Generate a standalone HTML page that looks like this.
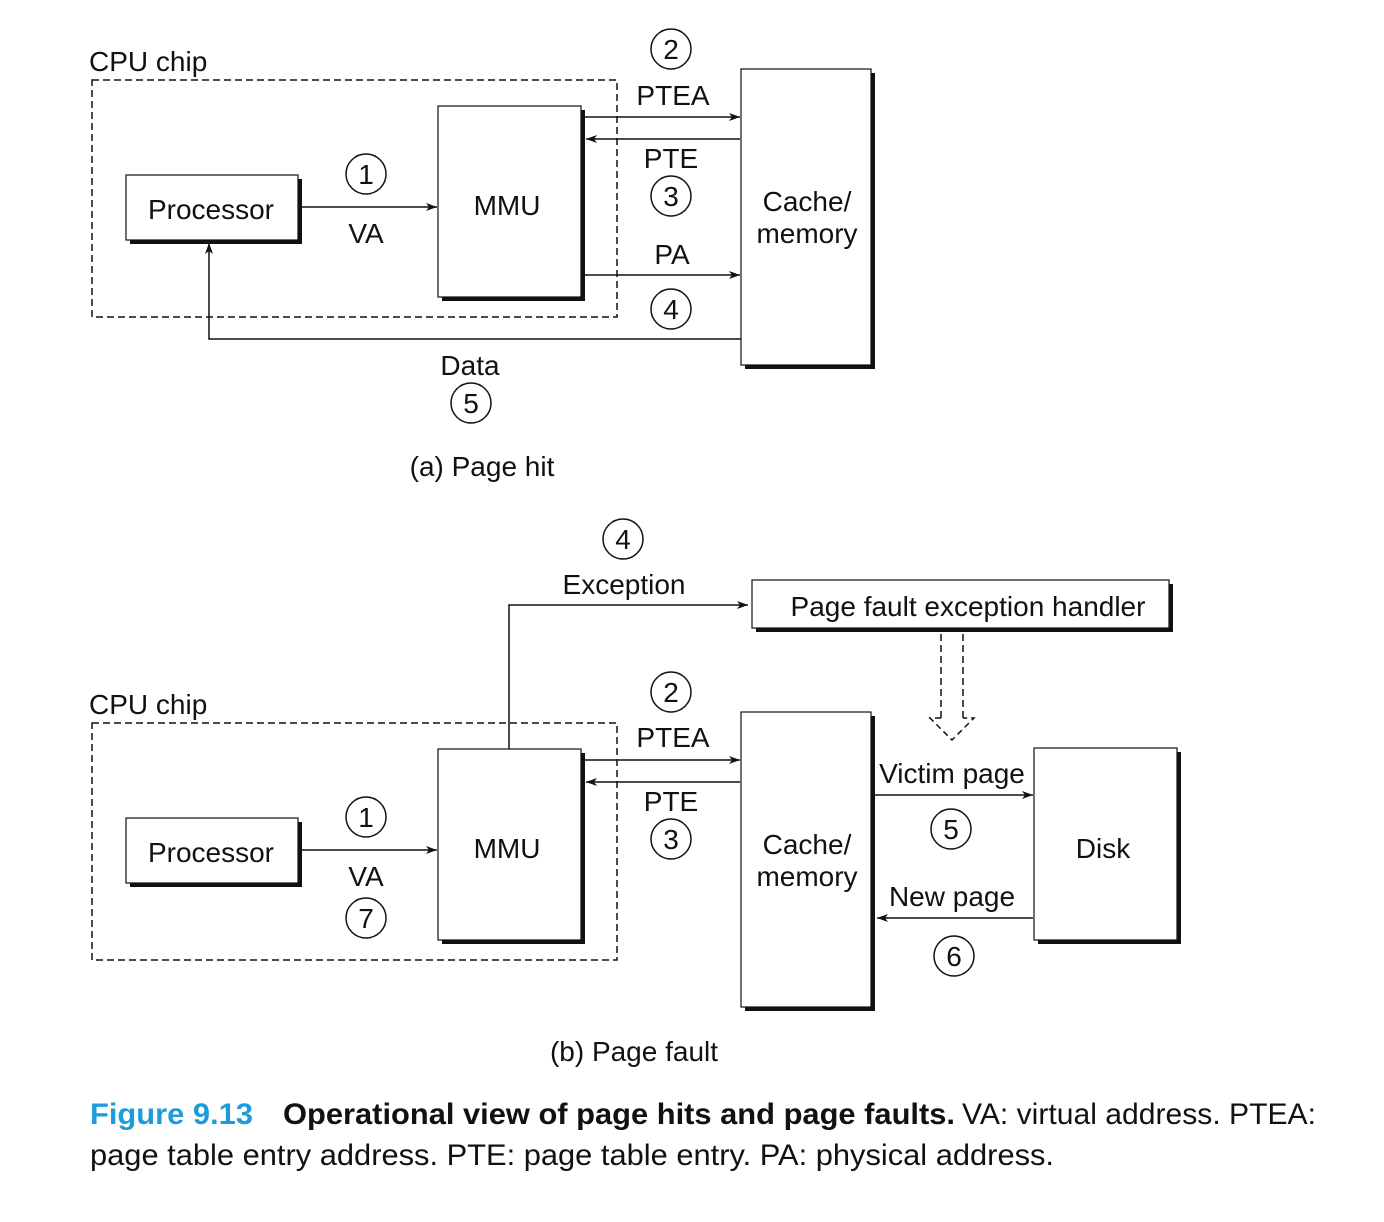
<!DOCTYPE html>
<html><head><meta charset="utf-8"><style>
html,body{margin:0;padding:0;background:#fff;}
svg{display:block;}
text{font-family:"Liberation Sans",Arial,sans-serif;fill:#111;}
</style></head><body>
<svg width="1384" height="1222" viewBox="0 0 1384 1222" xmlns="http://www.w3.org/2000/svg">
<defs>
<marker id="ah" markerWidth="12" markerHeight="8" refX="11" refY="4" orient="auto" markerUnits="userSpaceOnUse">
<path d="M0,0 L11,4 L0,8 L3,4 Z" fill="#111"/>
</marker>
</defs>
<g stroke="#111" fill="none" stroke-width="1.5">
<rect x="92" y="80" width="525" height="237" stroke-dasharray="7,4"/>
<rect x="130" y="179" width="172" height="65" fill="#111" stroke="none"/>
<rect x="126" y="175" width="172" height="65" fill="#fff" stroke-width="1.2"/>
<rect x="442" y="110" width="143" height="191" fill="#111" stroke="none"/>
<rect x="438" y="106" width="143" height="191" fill="#fff" stroke-width="1.2"/>
<rect x="745" y="73" width="130" height="296" fill="#111" stroke="none"/>
<rect x="741" y="69" width="130" height="296" fill="#fff" stroke-width="1.2"/>
<line x1="302" y1="207" x2="437" y2="207" marker-end="url(#ah)"/>
<line x1="585" y1="117" x2="740" y2="117" marker-end="url(#ah)"/>
<line x1="740" y1="139" x2="586" y2="139" marker-end="url(#ah)"/>
<line x1="585" y1="275" x2="740" y2="275" marker-end="url(#ah)"/>
<polyline points="741,339 209,339 209,243" marker-end="url(#ah)"/>
<circle cx="366" cy="174" r="20"/>
<circle cx="671" cy="49" r="20"/>
<circle cx="671" cy="196" r="20"/>
<circle cx="671" cy="309" r="20"/>
<circle cx="471" cy="403" r="20"/>
<rect x="92" y="723" width="525" height="237" stroke-dasharray="7,4"/>
<rect x="130" y="822" width="172" height="65" fill="#111" stroke="none"/>
<rect x="126" y="818" width="172" height="65" fill="#fff" stroke-width="1.2"/>
<rect x="442" y="753" width="143" height="191" fill="#111" stroke="none"/>
<rect x="438" y="749" width="143" height="191" fill="#fff" stroke-width="1.2"/>
<rect x="745" y="716" width="130" height="295" fill="#111" stroke="none"/>
<rect x="741" y="712" width="130" height="295" fill="#fff" stroke-width="1.2"/>
<rect x="756" y="584" width="417" height="48" fill="#111" stroke="none"/>
<rect x="752" y="580" width="417" height="48" fill="#fff" stroke-width="1.2"/>
<rect x="1038" y="752" width="143" height="192" fill="#111" stroke="none"/>
<rect x="1034" y="748" width="143" height="192" fill="#fff" stroke-width="1.2"/>
<line x1="302" y1="850" x2="437" y2="850" marker-end="url(#ah)"/>
<line x1="585" y1="760" x2="740" y2="760" marker-end="url(#ah)"/>
<line x1="740" y1="782" x2="586" y2="782" marker-end="url(#ah)"/>
<polyline points="509,749 509,605 748,605" marker-end="url(#ah)"/>
<line x1="875" y1="795" x2="1033" y2="795" marker-end="url(#ah)"/>
<line x1="1033" y1="918" x2="877" y2="918" marker-end="url(#ah)"/>
<line x1="941" y1="634" x2="941" y2="718" stroke-dasharray="7,4"/>
<line x1="963" y1="634" x2="963" y2="718" stroke-dasharray="7,4"/>
<polyline points="941,718 930,718 952,740 974,718 963,718" stroke-dasharray="6,4"/>
<circle cx="366" cy="817" r="20"/>
<circle cx="366" cy="918" r="20"/>
<circle cx="671" cy="692" r="20"/>
<circle cx="671" cy="839" r="20"/>
<circle cx="623" cy="539" r="20"/>
<circle cx="951" cy="829" r="20"/>
<circle cx="954" cy="956" r="20"/>
</g>
<g font-size="28" text-anchor="middle">
<text x="89" y="71" text-anchor="start">CPU chip</text>
<text x="211" y="219">Processor</text>
<text x="507" y="215">MMU</text>
<text x="807" y="211">Cache/</text>
<text x="807" y="243">memory</text>
<text x="366" y="243">VA</text>
<text x="673" y="105">PTEA</text>
<text x="671" y="168">PTE</text>
<text x="672" y="264">PA</text>
<text x="470" y="375">Data</text>
<text x="482" y="476">(a) Page hit</text>
<text x="366" y="184">1</text>
<text x="671" y="59">2</text>
<text x="671" y="206">3</text>
<text x="671" y="319">4</text>
<text x="471" y="413">5</text>

<text x="89" y="714" text-anchor="start">CPU chip</text>
<text x="211" y="862">Processor</text>
<text x="507" y="858">MMU</text>
<text x="807" y="854">Cache/</text>
<text x="807" y="886">memory</text>
<text x="366" y="886">VA</text>
<text x="673" y="747">PTEA</text>
<text x="671" y="811">PTE</text>
<text x="624" y="594">Exception</text>
<text x="968" y="616">Page fault exception handler</text>
<text x="1103" y="858">Disk</text>
<text x="952" y="783">Victim page</text>
<text x="952" y="906">New page</text>
<text x="634" y="1061">(b) Page fault</text>
<text x="366" y="827">1</text>
<text x="366" y="928">7</text>
<text x="671" y="702">2</text>
<text x="671" y="849">3</text>
<text x="623" y="549">4</text>
<text x="951" y="839">5</text>
<text x="954" y="966">6</text>
</g>
<g font-size="30">
<text x="90" y="1124" textLength="163" lengthAdjust="spacingAndGlyphs" style="fill:#1e9cd7;font-weight:bold">Figure 9.13</text>
<text x="283" y="1124" textLength="672" lengthAdjust="spacingAndGlyphs" style="font-weight:bold">Operational view of page hits and page faults.</text>
<text x="962" y="1124" textLength="354" lengthAdjust="spacingAndGlyphs">VA: virtual address. PTEA:</text>
<text x="90" y="1165" textLength="964" lengthAdjust="spacingAndGlyphs">page table entry address. PTE: page table entry. PA: physical address.</text>
</g>
</svg>
</body></html>
